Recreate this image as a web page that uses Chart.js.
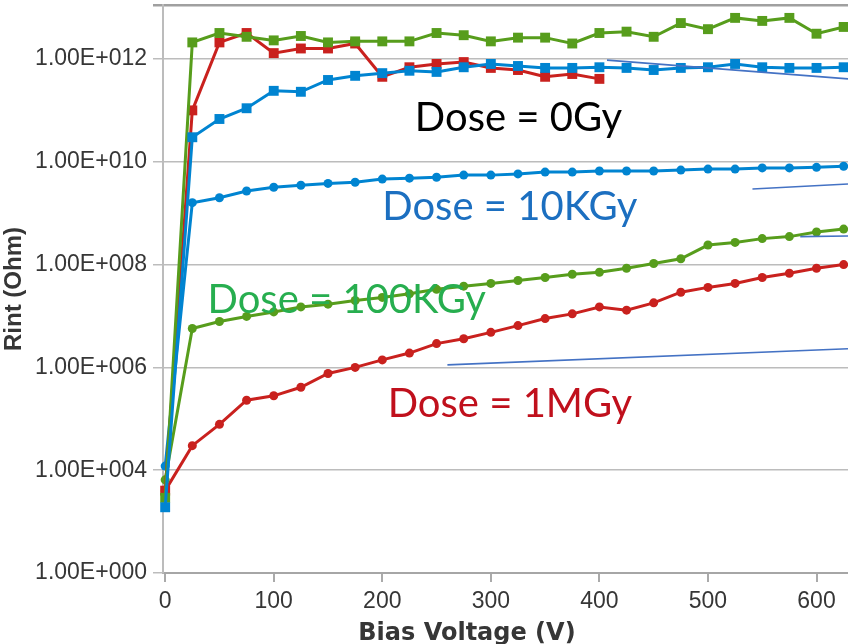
<!DOCTYPE html>
<html>
<head>
<meta charset="utf-8">
<script src="https://cdn.jsdelivr.net/npm/chart.js@4.4.1/dist/chart.umd.min.js"></script>
<style>
  html, body { margin: 0; padding: 0; background: #fff; }
  #wrap { width: 848px; height: 644px; position: relative; }
</style>
</head>
<body>
<div id="wrap"><canvas id="rint"></canvas></div>
<script>
// Bias voltage steps (V)
const voltage = [0, 25, 50, 75, 100, 125, 150, 175, 200, 225, 250, 275, 300,
                 325, 350, 375, 400, 425, 450, 475, 500, 525, 550, 575, 600, 625];

// Rint (Ohm), unirradiated samples (square markers)
const rintGreenSq = [2.9e3, 2.1e12, 3.2e12, 2.7e12, 2.3e12, 2.8e12, 2.1e12, 2.2e12, 2.2e12,
                     2.2e12, 3.2e12, 2.9e12, 2.2e12, 2.6e12, 2.6e12, 2.0e12, 3.2e12, 3.4e12,
                     2.7e12, 5.0e12, 3.8e12, 6.3e12, 5.5e12, 6.3e12, 3.1e12, 4.2e12];
const rintRedSq = [4.0e3, 1.0e11, 2.1e12, 3.2e12, 1.3e12, 1.6e12, 1.6e12, 2.0e12, 4.5e11,
                   6.9e11, 8.0e11, 8.7e11, 6.7e11, 6.1e11, 4.5e11, 5.1e11, 4.1e11];
const rintBlueSq = [1.9e3, 3.0e10, 6.8e10, 1.1e11, 2.4e11, 2.3e11, 3.9e11, 4.7e11, 5.3e11,
                    5.9e11, 5.6e11, 6.9e11, 8.0e11, 7.3e11, 6.7e11, 6.7e11, 6.9e11, 6.7e11,
                    6.1e11, 6.7e11, 6.9e11, 8.0e11, 6.9e11, 6.7e11, 6.7e11, 6.9e11];

// Rint (Ohm), irradiated samples (circle markers)
const rint10k = [1.2e4, 1.6e9, 2.0e9, 2.7e9, 3.2e9, 3.5e9, 3.8e9, 4.0e9, 4.6e9, 4.8e9, 5.0e9,
                 5.5e9, 5.5e9, 5.8e9, 6.3e9, 6.3e9, 6.6e9, 6.6e9, 6.6e9, 6.9e9, 7.2e9, 7.2e9,
                 7.6e9, 7.6e9, 7.8e9, 8.2e9];
const rint100k = [6.5e3, 5.7e6, 7.8e6, 9.8e6, 1.2e7, 1.5e7, 1.7e7, 2.0e7, 2.3e7, 2.7e7, 3.3e7,
                  3.8e7, 4.3e7, 4.9e7, 5.6e7, 6.5e7, 7.1e7, 8.5e7, 1.05e8, 1.3e8, 2.4e8, 2.7e8,
                  3.2e8, 3.5e8, 4.3e8, 4.9e8];
const rint1M = [4.0e3, 3.0e4, 7.8e4, 2.3e5, 2.8e5, 4.1e5, 7.6e5, 1.0e6, 1.4e6, 1.9e6, 2.9e6,
                3.6e6, 4.8e6, 6.5e6, 8.9e6, 1.1e7, 1.5e7, 1.3e7, 1.8e7, 2.9e7, 3.6e7, 4.3e7,
                5.6e7, 6.8e7, 8.5e7, 1.0e8];

// Axis ticks
const xTicks = [0, 100, 200, 300, 400, 500, 600];
const yMax = Math.pow(10, 13.05);
const yTicks = [1e2, 1e4, 1e6, 1e8, 1e10, 1e12, yMax];
const yTickLabels = ['1.00E+000', '1.00E+004', '1.00E+006', '1.00E+008', '1.00E+010', '1.00E+012', ''];

// Dose captions and their callout lines, in data coordinates
const doseLabels = ['Dose = 0Gy', 'Dose = 10KGy', 'Dose = 100KGy', 'Dose = 1MGy'];
const doseColors = ['#000000', '#1c6fc0', '#27ae4f', '#c0101c'];
const doseLabelAt = [[230, 4.0e10], [200, 7.4e8], [39, 1.15e7], [205, 1.1e5]];
const calloutLines = [
    [[407, 9.5e11], [629, 4.1e11]],
    [[541, 2.95e9], [629, 3.7e9]],
    [[585, 3.5e8], [629, 3.6e8]],
    [[260, 1.12e6], [629, 2.3e6]]
];

const GREEN = '#579d1c';
const RED = '#c9211e';
const BLUE = '#0084d1';
const AXIS_TEXT = '#363636';

function toPoints(values) {
    return values.map((v, i) => ({ x: voltage[i], y: v }));
}

function series(label, values, color, marker) {
    const square = marker === 'rect';
    return {
        label,
        data: toPoints(values),
        borderColor: color,
        backgroundColor: color,
        borderWidth: 3,
        pointStyle: marker,
        pointRadius: square ? 7 : 4.5,
        pointBorderWidth: 0,
        tension: 0,
        clip: false
    };
}

const annotations = {
    id: 'annotations',
    afterDatasetsDraw(chart) {
        const { ctx, chartArea, scales } = chart;
        const x = scales.x, y = scales.y;

        ctx.save();
        ctx.beginPath();
        ctx.rect(chartArea.left, chartArea.top, chartArea.right - chartArea.left, chartArea.bottom - chartArea.top);
        ctx.clip();
        ctx.strokeStyle = '#4472c4';
        ctx.lineWidth = 1.6;
        calloutLines.forEach(([a, b]) => {
            ctx.beginPath();
            ctx.moveTo(x.getPixelForValue(a[0]), y.getPixelForValue(a[1]));
            ctx.lineTo(x.getPixelForValue(b[0]), y.getPixelForValue(b[1]));
            ctx.stroke();
        });
        ctx.restore();

        ctx.save();
        ctx.font = '40px Lato';
        ctx.textAlign = 'left';
        ctx.textBaseline = 'alphabetic';
        doseLabels.forEach((text, i) => {
            ctx.fillStyle = doseColors[i];
            ctx.fillText(text, x.getPixelForValue(doseLabelAt[i][0]), y.getPixelForValue(doseLabelAt[i][1]));
        });

        // x axis title sits left of the visible plot centre
        ctx.font = 'bold 24px "DejaVu Sans"';
        ctx.fillStyle = AXIS_TEXT;
        ctx.textAlign = 'center';
        ctx.textBaseline = 'alphabetic';
        ctx.fillText('Bias Voltage (V)', x.getPixelForValue(278), chart.height - 4);
        ctx.restore();
    }
};

new Chart(document.getElementById('rint'), {
    type: 'line',
    data: {
        datasets: [
            series('0Gy (c)', rintBlueSq, BLUE, 'rect'),
            series('0Gy (a)', rintGreenSq, GREEN, 'rect'),
            series('0Gy (b)', rintRedSq, RED, 'rect'),
            series('10KGy', rint10k, BLUE, 'circle'),
            series('100KGy', rint100k, GREEN, 'circle'),
            series('1MGy', rint1M, RED, 'circle')
        ]
    },
    options: {
        responsive: true,
        maintainAspectRatio: false,
        animation: false,
        layout: { autoPadding: false, padding: { top: 5, right: 0, left: 0, bottom: 0 } },
        plugins: {
            legend: { display: false },
            tooltip: { enabled: false }
        },
        scales: {
            x: {
                type: 'linear',
                min: -2,
                max: 629,
                afterBuildTicks: scale => { scale.ticks = xTicks.map(v => ({ value: v })); },
                afterFit: scale => {
                    scale.height = 71;
                    scale.paddingLeft = 0;
                    scale.paddingRight = 0;
                },
                grid: {
                    drawOnChartArea: false,
                    color: '#aaaaaa',
                    lineWidth: 2,
                    tickLength: 9
                },
                border: { color: '#a6a6a6', width: 2 },
                ticks: {
                    color: AXIS_TEXT,
                    padding: 6,
                    maxRotation: 0,
                    font: { family: 'Liberation Sans', size: 23 }
                }
            },
            y: {
                type: 'logarithmic',
                min: 1e2,
                max: yMax,
                afterBuildTicks: scale => { scale.ticks = yTicks.map(v => ({ value: v })); },
                afterFit: scale => {
                    scale.width = 163;
                    scale.paddingTop = 0;
                    scale.paddingBottom = 0;
                },
                grid: {
                    color: c => (c.tick && c.tick.value === yMax ? '#a0a0a0' : '#bcbcbc'),
                    lineWidth: c => (c.tick && c.tick.value === yMax ? 2.5 : 1.5),
                    tickLength: 10
                },
                border: { color: '#bcbcbc', width: 2 },
                ticks: {
                    color: AXIS_TEXT,
                    padding: 6,
                    font: { family: 'Liberation Sans', size: 23 },
                    callback: (value, index) => yTickLabels[index]
                },
                title: {
                    display: true,
                    text: 'Rint (Ohm)',
                    color: AXIS_TEXT,
                    padding: 0,
                    font: { family: 'Liberation Sans', size: 24, weight: 'bold' }
                }
            }
        }
    },
    plugins: [annotations]
});
</script>
</body>
</html>
